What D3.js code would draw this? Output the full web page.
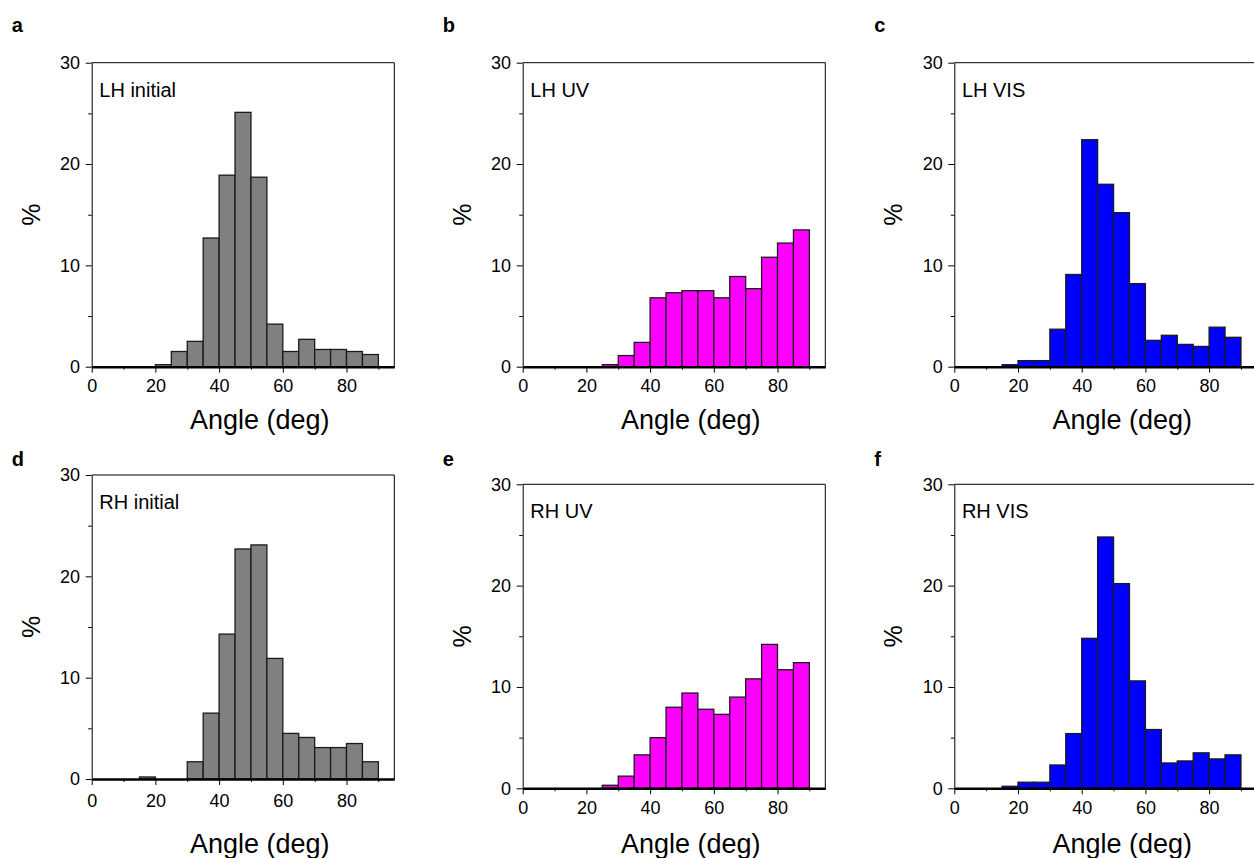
<!DOCTYPE html>
<html>
<head>
<meta charset="utf-8">
<script src="https://cdn.jsdelivr.net/npm/d3@7"></script>
<style>
  body { margin: 0; background: #fff; }
  svg { display: block; font-family: "Liberation Sans", Arial, sans-serif; }
</style>
</head>
<body>
<div id="chart"></div>
<script>
// bin starts, 5 degree bins from 0 to 90
const binStarts = [0, 5, 10, 15, 20, 25, 30, 35, 40, 45, 50, 55, 60, 65, 70, 75, 80, 85];

// percentages per bin
const lhInitial = [0, 0, 0, 0, 0.2, 1.5, 2.5, 12.7, 18.9, 25.1, 18.7, 4.2, 1.5, 2.7, 1.7, 1.7, 1.5, 1.2];
const lhUV      = [0, 0, 0, 0, 0, 0.2, 1.1, 2.4, 6.8, 7.3, 7.5, 7.5, 6.8, 8.9, 7.7, 10.8, 12.2, 13.5];
const lhVIS     = [0, 0, 0, 0.2, 0.6, 0.6, 3.7, 9.1, 22.4, 18.0, 15.2, 8.2, 2.6, 3.1, 2.2, 2.0, 3.9, 2.9];
const rhInitial = [0, 0, 0, 0.2, 0, 0, 1.7, 6.5, 14.3, 22.7, 23.1, 11.9, 4.5, 4.1, 3.1, 3.1, 3.5, 1.7];
const rhUV      = [0, 0, 0, 0, 0, 0.3, 1.2, 3.3, 5.0, 8.0, 9.4, 7.8, 7.3, 9.0, 10.8, 14.2, 11.7, 12.4];
const rhVIS     = [0, 0, 0, 0.2, 0.6, 0.6, 2.3, 5.4, 14.8, 24.8, 20.2, 10.6, 5.8, 2.5, 2.7, 3.5, 2.9, 3.3];

const panelLetters = ["a", "b", "c", "d", "e", "f"];
const panelTitles = ["LH initial", "LH UV", "LH VIS", "RH initial", "RH UV", "RH VIS"];
const panelData = [lhInitial, lhUV, lhVIS, rhInitial, rhUV, rhVIS];

const xMajorTicks = [0, 20, 40, 60, 80];
const xMinorTicks = [10, 30, 50, 70, 90];
const yMajorTicks = [0, 10, 20, 30];
const yMinorTicks = [5, 15, 25];

const binWidth = 5;

// layout
const gray = "#808080", magenta = "#ff00ff", blue = "#0000ff";
const panels = [
  {left: 91.7,  top: 62.7,  fill: gray,    letterY: 32,  xPad: 6.2, angleY: 429},
  {left: 522.7, top: 62.7,  fill: magenta, letterY: 32,  xPad: 6.2, angleY: 429},
  {left: 954.3, top: 62.7,  fill: blue,    letterY: 32,  xPad: 6.2, angleY: 429},
  {left: 91.7,  top: 475,   fill: gray,    letterY: 466, xPad: 9.3, angleY: 853},
  {left: 522.7, top: 484.3, fill: magenta, letterY: 466, xPad: 7, angleY: 853},
  {left: 954.3, top: 484.3, fill: blue,    letterY: 466, xPad: 7, angleY: 853}
];
const pw = 302.6, ph = 304;

const svg = d3.select("#chart").append("svg")
  .attr("width", 1254)
  .attr("height", 858);

const x = d3.scaleLinear().domain([0, 95]).range([0, pw]);
const y = d3.scaleLinear().domain([0, 30]).range([ph, 0]);

panels.forEach(function(p, i) {
  const g = svg.append("g").attr("transform", `translate(${p.left},${p.top})`);
  const data = binStarts.map((b, j) => ({x0: b, value: panelData[i][j]}));

  // bars
  g.selectAll("rect.bar")
    .data(data)
    .join("rect")
    .attr("class", "bar")
    .attr("x", d => x(d.x0))
    .attr("y", d => y(d.value))
    .attr("width", x(binWidth) - x(0))
    .attr("height", d => ph - y(d.value))
    .attr("fill", p.fill)
    .attr("stroke", "#1a1a1a")
    .attr("stroke-width", 1.3);

  // frame (top + right)
  g.append("path")
    .attr("d", `M0,0H${pw}V${ph}`)
    .attr("fill", "none")
    .attr("stroke", "#000")
    .attr("stroke-width", 1);

  // x axis
  const xa = g.append("g").attr("transform", `translate(0,${ph})`)
    .call(d3.axisBottom(x).tickValues(xMajorTicks).tickSize(6).tickPadding(p.xPad).tickSizeOuter(0));
  g.append("g").attr("transform", `translate(0,${ph})`)
    .call(d3.axisBottom(x).tickValues(xMinorTicks).tickSize(3).tickFormat("").tickSizeOuter(0))
    .select(".domain").remove();
  xa.select(".domain").attr("stroke-width", 2.4);

  // y axis
  g.append("g")
    .call(d3.axisLeft(y).tickValues(yMajorTicks).tickSize(6).tickPadding(5.6).tickSizeOuter(0));
  g.append("g")
    .call(d3.axisLeft(y).tickValues(yMinorTicks).tickSize(3.5).tickFormat("").tickSizeOuter(0))
    .select(".domain").remove();

  g.selectAll(".tick text")
    .attr("font-family", "'Liberation Sans', Arial, sans-serif")
    .attr("font-size", 18)
    .attr("fill", "#000");

  // inset label
  g.append("text")
    .attr("x", 7.6)
    .attr("y", 34)
    .attr("font-size", 20)
    .text(panelTitles[i]);

  // y label
  svg.append("text")
    .attr("transform", `translate(${p.left - 52},${p.top + ph / 2}) rotate(-90)`)
    .attr("text-anchor", "middle")
    .attr("font-size", 25)
    .text("%");

  // x label
  svg.append("text")
    .attr("x", p.left + 168)
    .attr("y", p.angleY)
    .attr("text-anchor", "middle")
    .attr("font-size", 27)
    .text("Angle (deg)");

  // panel letter
  svg.append("text")
    .attr("x", p.left - 80)
    .attr("y", p.letterY)
    .attr("font-size", 20)
    .attr("font-weight", "bold")
    .text(panelLetters[i]);
});
</script>
</body>
</html>
